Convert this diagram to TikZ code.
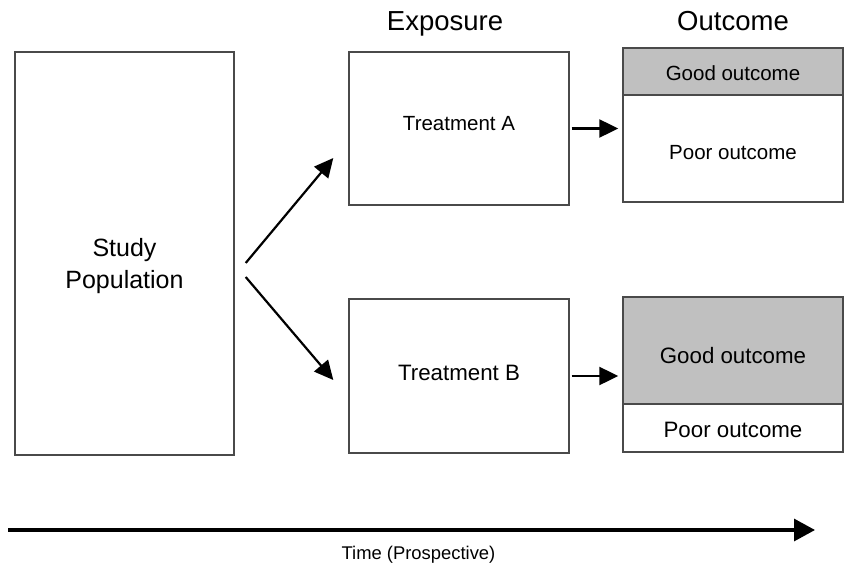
\documentclass[tikz,border=0pt]{standalone}
\usepackage{fontspec}
\setmainfont{Liberation Sans}
\usetikzlibrary{arrows.meta,calc}
\definecolor{boxline}{HTML}{4A4A4A}
\definecolor{goodfill}{HTML}{C0C0C0}
\tikzset{
  box/.style={draw=boxline, line width=1.4pt, rectangle, inner sep=0pt, fill=white},
  goodbox/.style={box, fill=goodfill},
  smalltxt/.style={font=\fontsize{20.5}{24}\selectfont, inner sep=0pt},
  bigtxt/.style={font=\fontsize{22.3}{26}\selectfont, inner sep=0pt},
  flow/.style={line width=2.2pt, -{Triangle[length=19pt,width=18pt]}},
  timeline/.style={line width=3.2pt, -{Triangle[length=21pt,width=22pt]}},
}
\begin{document}
\begin{tikzpicture}[x=1pt,y=-1pt]
\useasboundingbox (0,0) rectangle (845,564);
% headers
\node[font=\fontsize{27.5}{30}\selectfont, anchor=base] (hexp) at (445,31) {Exposure};
\node[font=\fontsize{27.5}{30}\selectfont, anchor=base] (hout) at (733,31) {Outcome};
% study population
\node[box, minimum width=219pt, minimum height=403pt] (study) at (124.5,253.5) {};
\node[font=\fontsize{25}{32}\selectfont, align=center] (studytext) at (124.5,266) {Study\\Population};
% treatments
\node[box, minimum width=220pt, minimum height=153pt] (ta) at (459,128.5) {};
\node[smalltxt] (tatext) at (459,123.5) {Treatment A};
\node[box, minimum width=220pt, minimum height=154pt] (tb) at (459,376) {};
\node[bigtxt] (tbtext) at (459,373) {Treatment B};
% outcomes A
\node[goodbox, minimum width=220pt, minimum height=47pt] (agood) at (733,71.5) {};
\node[smalltxt] (agoodtext) at (733,73) {Good outcome};
\node[box, minimum width=220pt, minimum height=107pt] (apoor) at (733,148.5) {};
\node[smalltxt] (apoortext) at (733,153) {Poor outcome};
% outcomes B
\node[goodbox, minimum width=220pt, minimum height=107pt] (bgood) at (733,350.5) {};
\node[bigtxt] (bgoodtext) at (733,355.5) {Good outcome};
\node[box, minimum width=220pt, minimum height=48pt] (bpoor) at (733,428) {};
\node[bigtxt] (bpoortext) at (733,430) {Poor outcome};
% arrows from study population
\draw[flow] ($(study.east)+(11,9.5)$) -- ($(ta.west)+(-15,29.5)$);
\draw[flow] ($(study.east)+(11,23.5)$) -- ($(tb.west)+(-15,4)$);
% arrows to outcomes
\draw[flow, shorten <=2pt, shorten >=4pt] (ta.east) -- (ta.east -| apoor.west);
\draw[flow, shorten <=2pt, shorten >=4pt] (tb.east) -- (tb.east -| bgood.west);
% time arrow
\coordinate (t0) at (8,530);
\coordinate (t1) at (815,530);
\draw[timeline] (t0) -- (t1);
\node[font=\fontsize{18.4}{21}\selectfont, anchor=base] (tlabel) at (418.5,559) {Time (Prospective)};
\end{tikzpicture}
\end{document}
